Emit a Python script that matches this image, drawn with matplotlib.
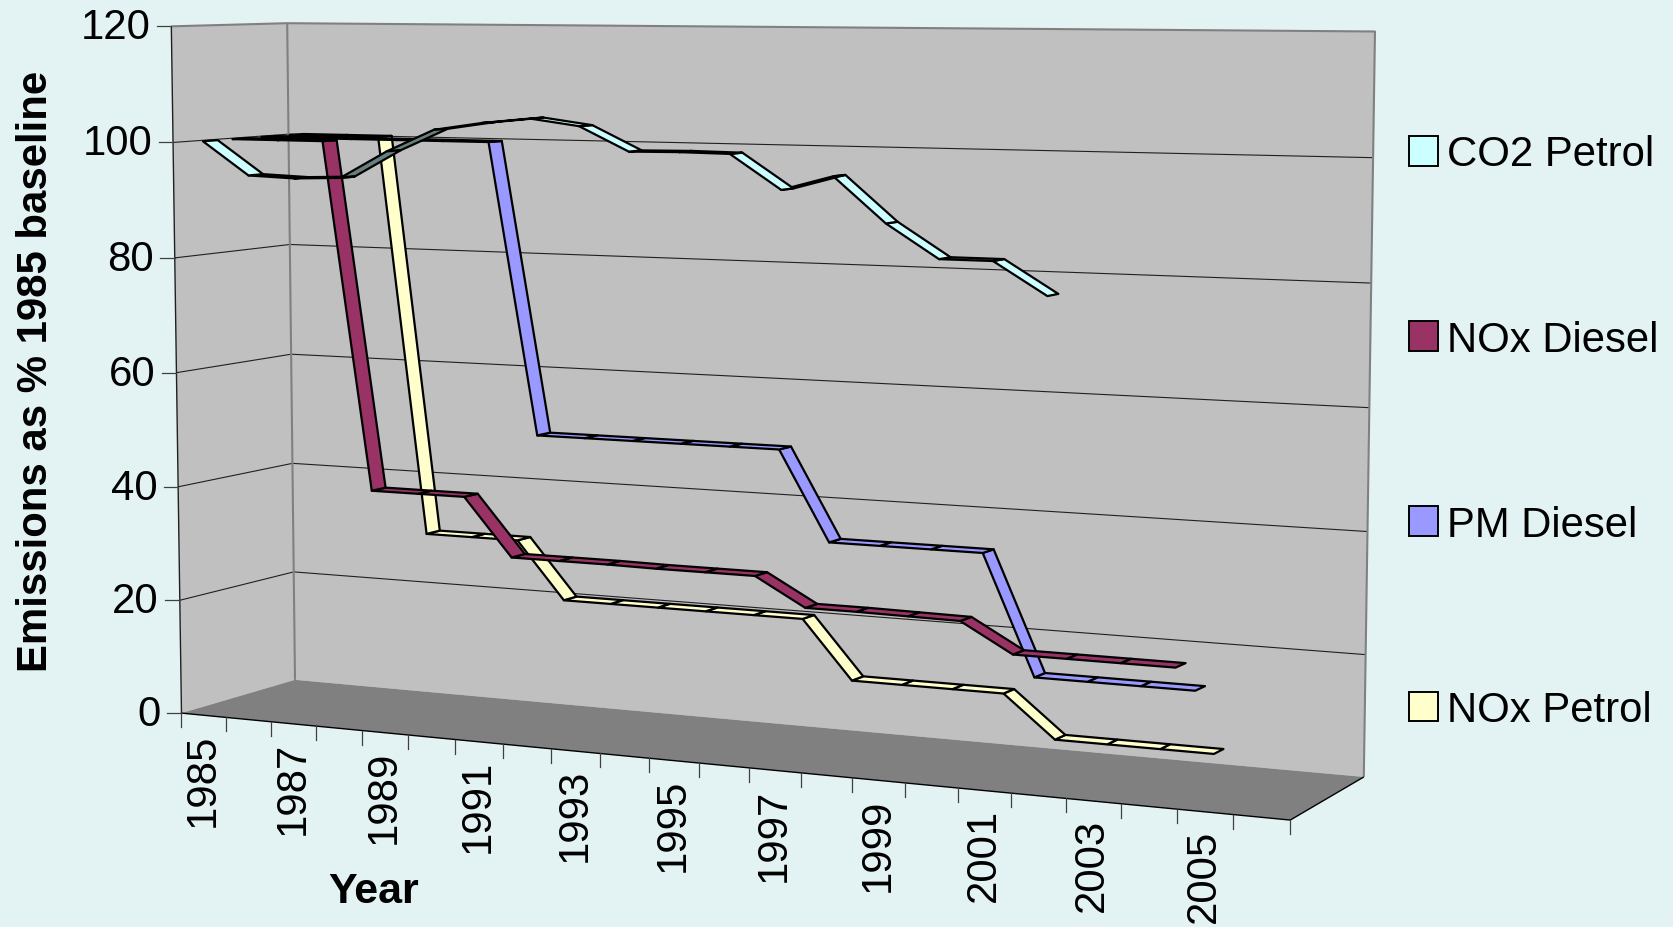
import numpy as np
import matplotlib
matplotlib.use("Agg")
import matplotlib.pyplot as plt
from matplotlib.lines import Line2D
from matplotlib.patches import Patch
from matplotlib.transforms import IdentityTransform
from matplotlib.colors import to_rgb
from mpl_toolkits.mplot3d.art3d import Poly3DCollection, Line3DCollection

plt.rcParams['font.family'] = ['Liberation Sans', 'DejaVu Sans']

years = list(range(1985, 2007))
series_names = ['CO2 Petrol', 'NOx Diesel', 'PM Diesel', 'NOx Petrol']
co2_petrol = [100.2, 94.5, 94.2, 94.5, 99.2, 103, 104.3, 105.2, 104.1, 100.1, 100.2, 100.1, 94.5, 96.9, 89.6, 84.2, 84.2, 79]
nox_diesel = [100.2, 100.2, 100.2, 39.8, 39.8, 39.8, 29.9, 29.9, 29.9, 29.8, 29.8, 29.8, 25.1, 25.1, 25, 24.9, 20.1, 20.1, 20.1, 20.1]
pm_diesel = [100.2, 100.2, 100.2, 100.2, 100.2, 100.2, 49.9, 49.9, 49.9, 49.9, 49.9, 49.9, 34.8, 34.8, 34.8, 34.8, 14.9, 14.9, 14.9, 14.9]
nox_petrol = [100.2, 100.2, 100.2, 29.9, 29.9, 29.9, 19.9, 19.9, 19.9, 19.9, 19.9, 19.9, 10, 10, 10, 10, 3, 3, 3, 3]
series_values = [co2_petrol, nox_diesel, pm_diesel, nox_petrol]
series_colors = ['#CCFFFF', '#993366', '#9999FF', '#FFFFCC']
value_ticks = [0, 20, 40, 60, 80, 100, 120]
label_years = years[::2][:11]

W, H = 1673, 928
fig = plt.figure(figsize=(W / 100, H / 100), dpi=100, facecolor='#E3F3F3')
ax = fig.add_axes([0, (1 - W / H) / 2, 1, W / H], projection='3d', computed_zorder=False)
ax.set_axis_off()
ax.patch.set_visible(False)

NX, ND, VMAX = len(years), len(series_names), value_ticks[-1]
# calibration of the box corners: (category, depth, value) -> image pixel
calib = [((0, 0, 0), (181.5, 714.5)), ((0, 0, VMAX), (171.5, 27)),
         ((0, ND, 0), (295, 680.5)), ((0, ND, VMAX), (287, 24.5)),
         ((NX, ND, VMAX), (1375, 32.5)), ((NX, ND, 0), (1364, 778)),
         ((NX, 0, 0), (1290, 821))]
A = []
for (x, d, v), (px, py) in calib:
    A.append([x, d, v, 1, 0, 0, 0, 0, -px * x, -px * d, -px * v, -px])
    A.append([0, 0, 0, 0, x, d, v, 1, -py * x, -py * d, -py * v, -py])
P = np.linalg.svd(np.array(A, float))[2][-1].reshape(3, 4)
P = P / (P[2] @ np.array([0, 0, 0, 1.0]))


def to_px(x, d, v):
    u = P @ np.array([x, d, v, 1.0])
    return u[0] / u[2], u[1] / u[2]


def get_proj():
    disp = np.array([P[0], H * P[2] - P[1], P[2]])
    inv = ax.transData.inverted().get_affine().get_matrix()
    m2 = inv @ disp
    return np.array([m2[0], m2[1], [0, 0.01, 0, 0], m2[2]])


ax.get_proj = get_proj

# walls and floor
back = [[(0, ND, 0), (NX, ND, 0), (NX, ND, VMAX), (0, ND, VMAX)]]
left = [[(0, 0, 0), (0, ND, 0), (0, ND, VMAX), (0, 0, VMAX)]]
floor = [[(0, 0, 0), (NX, 0, 0), (NX, ND, 0), (0, ND, 0)]]
for verts, col in ((back, '#C0C0C0'), (left, '#C0C0C0'), (floor, '#808080')):
    ax.add_collection3d(Poly3DCollection(verts, facecolors=col, edgecolors='none', zorder=0.5), autolim=False)


def lines3d(paths, **kw):
    ax.add_collection3d(Line3DCollection(paths, zorder=5, **kw), autolim=False)


lines3d([[(0, 0, v), (0, ND, v), (NX, ND, v)] for v in value_ticks[1:-1]], colors='#202020', linewidths=0.8)
lines3d([[(0, 0, VMAX), (0, ND, VMAX), (NX, ND, VMAX), (NX, ND, 0)],
         [(0, ND, 0), (0, ND, VMAX)]], colors='#808080', linewidths=1.5)
lines3d([[(0, 0, 0), (0, 0, VMAX)]], colors='#202020', linewidths=1.0)
lines3d([[(0, 0, 0), (NX, 0, 0), (NX, ND, 0)]], colors='black', linewidths=1.0)

# ribbons, back series first
half = 0.25
for k in range(ND - 1, -1, -1):
    vals = series_values[k]
    d0, d1 = k + 0.5 - half, k + 0.5 + half
    quads, faces = [], []
    base = np.array(to_rgb(series_colors[k]))
    for i in range(len(vals) - 1):
        a, b = vals[i], vals[i + 1]
        quads.append([(i + .5, d0, a), (i + 1.5, d0, b), (i + 1.5, d1, b), (i + .5, d1, a)])
        faces.append(tuple(base * 0.5) if b > a else tuple(base))
    ax.add_collection3d(Poly3DCollection(quads, facecolors=faces, edgecolors='black',
                                         linewidths=1.6, zorder=10 + ND - k), autolim=False)

ident = IdentityTransform()


def seg(x0, y0, x1, y1, **kw):
    fig.add_artist(Line2D([x0, x1], [H - y0, H - y1], transform=ident, **kw))


FS = 30.2
for v in value_ticks:
    px, py = to_px(0, 0, v)
    seg(px - 14.5, py, px, py, color='#404040', lw=0.9)
    fig.text(px - 21, H - py - 1, str(v), ha='right', va='center', fontsize=FS, transform=ident)

for i in range(NX + 1):
    px, py = to_px(i, 0, 0)
    seg(px, py, px, py + 14, color='#404040', lw=0.9)

for y in label_years:
    i = years.index(y)
    px, py = to_px(i + .5, 0, 0)
    fig.text(px - 1, H - (py + 17), str(y), rotation=90, ha='center', va='top', fontsize=FS, transform=ident)

fig.text(374, H - 892, 'Year', ha='center', va='center', fontsize=31, fontweight='bold', transform=ident)
fig.text(36, H - 371, 'Emissions as % 1985 baseline', rotation=90, ha='center', va='center',
         fontsize=FS, fontweight='bold', transform=ident)

handles = [Patch(facecolor=c, edgecolor='black', linewidth=1.4) for c in series_colors]
fig.legend(handles, series_names, loc='upper left', bbox_to_anchor=(1409 / W, 1 - 135.5 / H), frameon=False,
           fontsize=FS, handlelength=0.7, handleheight=0.7, handletextpad=0.2, labelspacing=3.46,
           borderpad=0, borderaxespad=0)

fig.savefig('out.png', dpi=100, facecolor=fig.get_facecolor())
